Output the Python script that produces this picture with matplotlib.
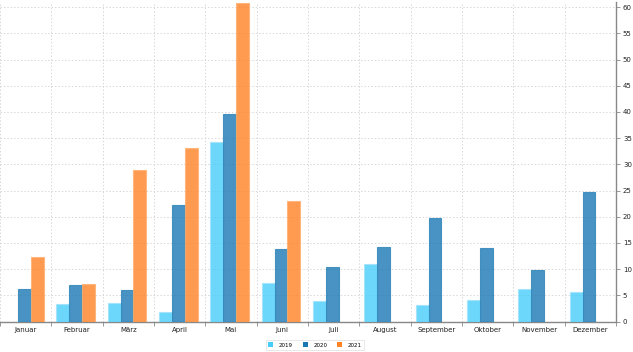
import matplotlib
matplotlib.use("Agg")
import matplotlib.pyplot as plt
import numpy as np

months = ["Januar", "Februar", "März", "April", "Mai", "Juni", "Juli",
          "August", "September", "Oktober", "November", "Dezember"]
series_names = ["2019", "2020", "2021"]
v2019 = [0, 3.3, 3.5, 1.8, 34.2, 7.3, 3.9, 11.0, 3.1, 4.2, 6.2, 5.6]
v2020 = [6.3, 6.9, 6.0, 22.2, 39.6, 13.9, 10.4, 14.3, 19.8, 14.1, 9.9, 24.8]
v2021 = [12.4, 7.2, 29.0, 33.1, 60.9, 23.0, 0, 0, 0, 0, 0, 0]
yticks = list(range(0, 61, 5))

colors = ["#48cdfa", "#1a78b4", "#ff8225"]
edge = ["#9fe3fb", "#2a82b8", "#ffb070"]

fig = plt.figure(figsize=(6.33, 3.52), dpi=100)
ax = fig.add_axes([0.0, 352 - 321.5, 616 / 633, 319.5 / 352])
ax.set_position([0.0, (352 - 321.5) / 352, 616 / 633, 319.5 / 352])

x = np.arange(len(months))
w = 0.25
for i, (vals, name) in enumerate(zip([v2019, v2020, v2021], series_names)):
    ax.bar(x + (i - 1) * w - 0.025, vals, width=w, color=colors[i], alpha=0.8,
           edgecolor=edge[i], linewidth=0.8, label=name, zorder=3)

ax.set_xlim(-0.5, 11.5)
ax.set_ylim(0, 61.0)
ax.yaxis.tick_right()
ax.set_yticks(yticks)
ax.set_yticklabels([str(t) for t in yticks], fontsize=5, color="#222222")
ax.tick_params(axis="y", length=3, width=0.6, color="#888888", pad=2)

ax.set_xticks(x)
ax.set_xticklabels(months, fontsize=5, color="#222222")
ax.tick_params(axis="x", which="major", length=0, pad=4)
ax.set_xticks(np.arange(-0.5, 12, 1), minor=True)
ax.tick_params(axis="x", which="minor", length=3, width=0.6, color="#888888")

ax.grid(True, axis="y", which="major", linestyle=(0, (1.5, 2)), color="#d8d8d8", linewidth=0.7, zorder=0)
ax.grid(True, axis="x", which="minor", linestyle=(0, (1.5, 2)), color="#d8d8d8", linewidth=0.7, zorder=0)
ax.grid(False, axis="x", which="major")

for s in ["top", "left"]:
    ax.spines[s].set_visible(False)
ax.spines["right"].set_color("#888888")
ax.spines["right"].set_linewidth(1.0)
ax.spines["bottom"].set_color("#888888")
ax.spines["bottom"].set_linewidth(1.0)

from matplotlib.patches import Patch
handles = [Patch(facecolor=c, edgecolor="none") for c in colors]
leg = fig.legend(handles, series_names, loc="center", bbox_to_anchor=(315 / 633, 1 - 345 / 352),
                 ncol=3, fontsize=4, frameon=True, handlelength=0.9, handleheight=0.9,
                 columnspacing=1.8, handletextpad=1.0, borderpad=0.4, fancybox=False)
leg.get_frame().set_edgecolor("#dddddd")
leg.get_frame().set_linewidth(0.6)

fig.savefig("out.png", dpi=100)
